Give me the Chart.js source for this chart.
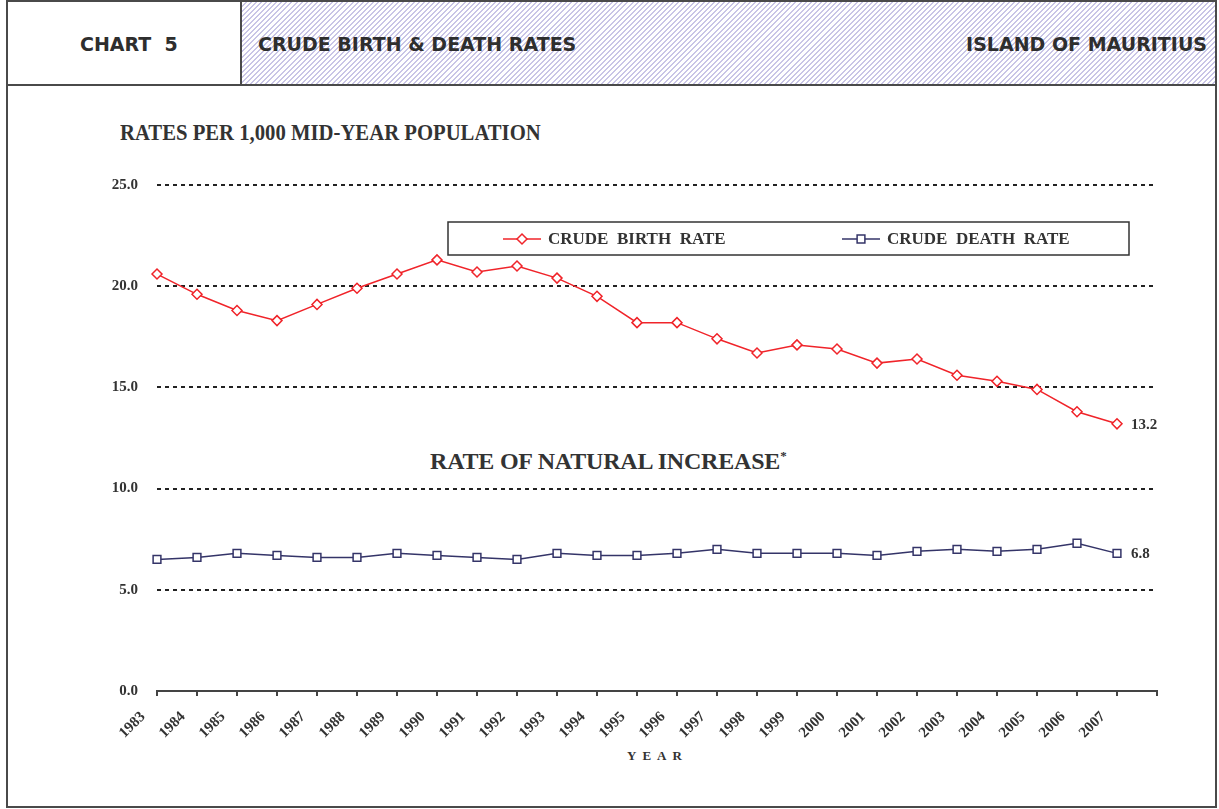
<!DOCTYPE html>
<html>
<head>
<meta charset="utf-8">
<title>Crude Birth & Death Rates</title>
<script src="https://cdn.jsdelivr.net/npm/chart.js@4.4.0/dist/chart.umd.min.js"></script>
<style>
  body { margin: 0; background: #fff; }
  #page { position: relative; width: 1219px; height: 809px; overflow: hidden; color: #333; font-family: "Liberation Serif", "Times New Roman", serif; }
  #frame { position: absolute; left: 6px; top: 0; width: 1211px; height: 808px; box-sizing: border-box; border: 2px solid #4a4a4a; }
  #head { position: absolute; left: 0; top: 0; right: 0; height: 84px; box-sizing: border-box; border-bottom: 2px solid #4a4a4a; }
  #headLeft { position: absolute; left: 0; top: 0; width: 234px; height: 82px; box-sizing: border-box; border-right: 2px solid #4a4a4a; }
  #headRight { position: absolute; left: 234px; top: 0; right: 0; height: 82px;
    background: repeating-linear-gradient(135deg, #fff 0px, #fff 2.2px, #c9c5e6 2.2px, #c9c5e6 3.6px); }
  .hd { position: absolute; font-family: "DejaVu Sans", sans-serif; font-weight: bold; font-size: 19px; color: #2e2e2e; white-space: pre; line-height: 20px; top: 32px; }
  .txt { position: absolute; font-weight: bold; white-space: pre; color: #333; line-height: 1; }
  canvas { position: absolute; left: 0; top: 0; }
</style>
</head>
<body>
<div id="page">
  <div id="frame">
    <div id="head">
      <div id="headLeft"><div class="hd" style="left:72px">CHART  5</div></div>
      <div id="headRight">
        <div class="hd" style="left:16px">CRUDE BIRTH &amp; DEATH RATES</div>
        <div class="hd" style="right:8px">ISLAND OF MAURITIUS</div>
      </div>
    </div>
  </div>
  <div class="txt" style="left:120px; top:121px; font-size:23px; transform:scaleX(0.9); transform-origin:left top;">RATES PER 1,000 MID-YEAR POPULATION</div>
  <div class="txt" style="left:430px; top:449px; font-size:24px; letter-spacing:-0.2px;">RATE OF NATURAL INCREASE<sup style="font-size:13px; vertical-align:9px;">*</sup></div>
  <div class="txt" style="left:627px; top:749px; font-size:13px; letter-spacing:6px;">YEAR</div>
  <canvas id="chart" width="1219" height="809"></canvas>
</div>
<script>
const years = ['1983', '1984', '1985', '1986', '1987', '1988', '1989', '1990', '1991', '1992', '1993', '1994', '1995',
  '1996', '1997', '1998', '1999', '2000', '2001', '2002', '2003', '2004', '2005', '2006', '2007'];
const axisLabels = years.concat(['']);
const birthRate = [20.6, 19.6, 18.8, 18.3, 19.1, 19.9, 20.6, 21.3, 20.7, 21.0, 20.4, 19.5, 18.2,
  18.2, 17.4, 16.7, 17.1, 16.9, 16.2, 16.4, 15.6, 15.3, 14.9, 13.8, 13.2];
const deathRate = [6.5, 6.6, 6.8, 6.7, 6.6, 6.6, 6.8, 6.7, 6.6, 6.5, 6.8, 6.7, 6.7,
  6.8, 7.0, 6.8, 6.8, 6.8, 6.7, 6.9, 7.0, 6.9, 7.0, 7.3, 6.8];
const yTicks = [0, 5, 10, 15, 20, 25];
const seriesNames = ['CRUDE  BIRTH  RATE', 'CRUDE  DEATH  RATE'];

// legend box drawn inside the plot, like the original
const boxLegend = {
  id: 'boxLegend',
  afterDraw(chart) {
    const ctx = chart.ctx;
    ctx.save();
    ctx.fillStyle = '#fff';
    ctx.fillRect(448, 222, 681, 33);
    ctx.strokeStyle = '#333';
    ctx.lineWidth = 1.5;
    ctx.strokeRect(448, 222, 681, 33);
    const starts = [503, 842];
    chart.data.datasets.forEach((ds, i) => {
      const x0 = starts[i], y = 239;
      ctx.strokeStyle = ds.borderColor;
      ctx.lineWidth = ds.borderWidth;
      ctx.beginPath();
      ctx.moveTo(x0, y);
      ctx.lineTo(x0 + 38, y);
      ctx.stroke();
      ctx.fillStyle = '#fff';
      ctx.lineWidth = ds.pointBorderWidth;
      Chart.helpers.drawPoint(ctx, { pointStyle: ds.pointStyle, radius: ds.pointRadius, borderWidth: ds.pointBorderWidth, rotation: 0 }, x0 + 19, y);
      ctx.fillStyle = '#333';
      ctx.font = 'bold 17px "Liberation Serif", serif';
      ctx.textBaseline = 'middle';
      ctx.textAlign = 'left';
      ctx.fillText(ds.label, x0 + 45, y + 1);
    });
    ctx.restore();
  }
};

// value label next to the last point of each line
const endLabels = {
  id: 'endLabels',
  afterDatasetsDraw(chart) {
    const ctx = chart.ctx;
    ctx.save();
    ctx.font = 'bold 15px "Liberation Serif", serif';
    ctx.fillStyle = '#333';
    ctx.textBaseline = 'middle';
    chart.data.datasets.forEach((ds, i) => {
      const pts = chart.getDatasetMeta(i).data;
      const last = pts[ds.data.length - 1];
      ctx.fillText(ds.data[ds.data.length - 1].toFixed(1), last.x + 14, last.y + 1);
    });
    ctx.restore();
  }
};

new Chart(document.getElementById('chart'), {
  type: 'line',
  data: {
    labels: axisLabels,
    datasets: [
      {
        label: seriesNames[0],
        data: birthRate,
        borderColor: '#f0242a',
        borderWidth: 1.5,
        pointStyle: 'rectRot',
        pointRadius: 5,
        pointBackgroundColor: '#fff',
        pointBorderColor: '#f0242a',
        pointBorderWidth: 1.5,
        tension: 0,
      },
      {
        label: seriesNames[1],
        data: deathRate,
        borderColor: '#343468',
        borderWidth: 1.5,
        pointStyle: 'rect',
        pointRadius: 5.5,
        pointBackgroundColor: '#fff',
        pointBorderColor: '#343468',
        pointBorderWidth: 1.5,
        tension: 0,
      },
    ],
  },
  options: {
    responsive: false,
    animation: false,
    layout: { padding: { left: 0, top: 185, right: 62, bottom: 68 } },
    plugins: { legend: { display: false }, tooltip: { enabled: false } },
    scales: {
      x: {
        offset: false,
        afterFit: (s) => { s.height = 50; },
        border: { display: true, color: '#444', width: 2 },
        grid: { drawOnChartArea: false, drawTicks: true, tickLength: 5, color: '#444', lineWidth: 2 },
        ticks: {
          autoSkip: false,
          maxRotation: 45,
          minRotation: 45,
          padding: 12,
          labelOffset: -14,
          color: '#333',
          font: { family: '"Liberation Serif", serif', weight: 'bold', size: 15 },
        },
      },
      y: {
        min: 0,
        max: 25,
        afterFit: (s) => { s.width = 157; },
        afterBuildTicks: (s) => { s.ticks = yTicks.map((v) => ({ value: v })); },
        border: { display: false, dash: [4, 4] },
        grid: {
          drawTicks: false,
          color: (c) => (c.tick && c.tick.value === 0 ? 'rgba(0,0,0,0)' : '#222'),
          lineWidth: 2,
        },
        ticks: {
          padding: 19,
          color: '#333',
          font: { family: '"Liberation Serif", serif', weight: 'bold', size: 15 },
          callback: (v) => Number(v).toFixed(1),
        },
      },
    },
  },
  plugins: [boxLegend, endLabels],
});
</script>
</body>
</html>
